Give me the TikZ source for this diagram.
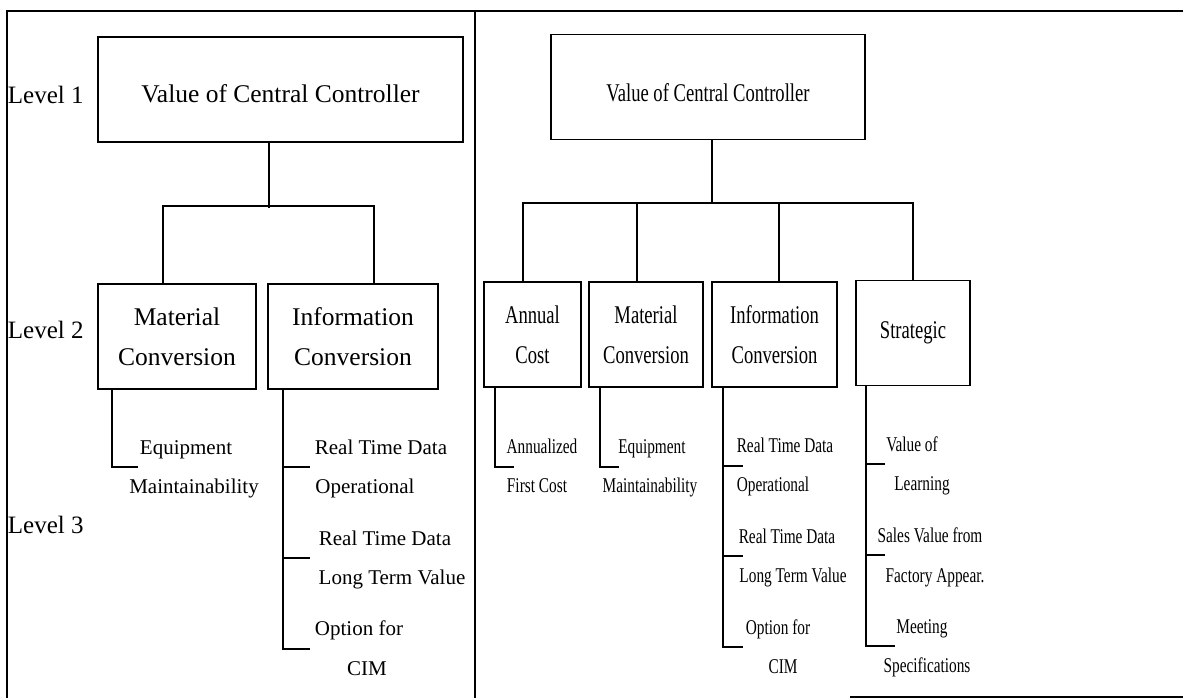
\documentclass[tikz,border=0pt]{standalone}
\usepackage{fontspec}
\setmainfont{Liberation Serif}
\newfontfamily\condf[FakeStretch=0.73]{Liberation Serif}
\begin{document}
\begin{tikzpicture}[x=1pt,y=-1pt, line width=1.8pt,
  box/.style={draw, rectangle, minimum height=105pt, inner sep=0pt, align=center},
  bigL/.style={font=\fontsize{25.5}{40}\selectfont},
  bigR/.style={font=\condf\fontsize{25.5}{40}\selectfont},
  smL/.style={font=\fontsize{21}{25}\selectfont, anchor=base, inner sep=0pt},
  smR/.style={font=\condf\fontsize{21}{25}\selectfont, anchor=base, inner sep=0pt},
  lvl/.style={font=\fontsize{25}{30}\selectfont, anchor=base west, inner sep=0pt}
]
\useasboundingbox (0,0) rectangle (1183,698);

% frame
\draw (7,698) -- (7,11) -- (1183,11);
\draw (475,11) -- (475,698);
\draw (850,697) -- (1183,697);

% level labels
\node[lvl] (lv1) at (7,104) {Level 1};
\node[lvl] (lv2) at (7,338) {Level 2};
\node[lvl] (lv3) at (7,533) {Level 3};

% ---------- left panel ----------
\node[box, bigL, minimum width=365pt, text height=27pt, text depth=0pt] (L1) at (280.5,89.5) {Value of Central Controller};
\node[box, bigL, minimum width=158pt] (LM) at (177,336.5) {Material\\Conversion};
\node[box, bigL, minimum width=170pt] (LI) at (353,336.5) {Information\\Conversion};

\draw ([xshift=-11.5pt]L1.south) -- ++(0,65);
\draw ([xshift=-14pt]LM.north) -- ++(0,-77) -| ([xshift=21pt]LI.north);

\coordinate (tLM) at (138,467);
\draw ([xshift=-65pt]LM.south) |- (tLM);
\coordinate (tLI1) at (310,467);
\coordinate (tLI2) at (310,558);
\coordinate (tLI3) at (310,649);
\draw ([xshift=-70pt]LI.south) |- (tLI1);
\draw ([xshift=-70pt]LI.south) |- (tLI2);
\draw ([xshift=-70pt]LI.south) |- (tLI3);

\node[smL] (le1) at (186,454) {Equipment};
\node[smL] (le2) at (194,493) {Maintainability};
\node[smL] (li1) at (381,454) {Real Time Data};
\node[smL] (li2) at (365,493) {Operational};
\node[smL] (li3) at (385,545) {Real Time Data};
\node[smL] (li4) at (392,584) {Long Term Value};
\node[smL] (li5) at (359,635) {Option for};
\node[smL] (li6) at (367,675) {CIM};

% ---------- right panel ----------
\node[box, bigR, minimum width=314pt, text height=29pt, text depth=0pt] (R1) at (708,87) {Value of Central Controller};
\node[box, bigR, minimum width=97pt] (RA) at (532.5,334.5) {Annual\\Cost};
\node[box, bigR, minimum width=114pt] (RM) at (646,334.5) {Material\\Conversion};
\node[box, bigR, minimum width=125pt] (RI) at (774.5,334.5) {Information\\Conversion};
\node[box, bigR, minimum width=114pt] (RS) at (913,333) {Strategic};

\draw ([xshift=4pt]R1.south) -- ++(0,64);
\draw ([xshift=-9.5pt]RA.north) -- ++(0,-78) -| (RS.north);
\draw ([xshift=-9pt]RM.north) -- ++(0,-78);
\draw ([xshift=4.5pt]RI.north) -- ++(0,-78);

\coordinate (tRA) at (514,467);
\draw ([xshift=-37.5pt]RA.south) |- (tRA);
\coordinate (tRM) at (619,467);
\draw ([xshift=-46pt]RM.south) |- (tRM);
\coordinate (tRI1) at (743,466);
\coordinate (tRI2) at (743,556);
\coordinate (tRI3) at (743,647);
\draw ([xshift=-51.5pt]RI.south) |- (tRI1);
\draw ([xshift=-51.5pt]RI.south) |- (tRI2);
\draw ([xshift=-51.5pt]RI.south) |- (tRI3);
\coordinate (tRS1) at (885,464);
\coordinate (tRS2) at (885,555);
\coordinate (tRS3) at (895,646);
\draw ([xshift=-47pt]RS.south) |- (tRS1);
\draw ([xshift=-47pt]RS.south) |- (tRS2);
\draw ([xshift=-47pt]RS.south) |- (tRS3);

\node[smR] (ra1) at (542,453) {Annualized};
\node[smR] (ra2) at (537,492) {First Cost};
\node[smR] (rm1) at (652,453) {Equipment};
\node[smR] (rm2) at (650,492) {Maintainability};
\node[smR] (ri1) at (785,452) {Real Time Data};
\node[smR] (ri2) at (773,491) {Operational};
\node[smR] (ri3) at (787,543) {Real Time Data};
\node[smR] (ri4) at (793,582) {Long Term Value};
\node[smR] (ri5) at (778,634) {Option for};
\node[smR] (ri6) at (783,673) {CIM};
\node[smR] (rs1) at (912,451) {Value of};
\node[smR] (rs2) at (922,490) {Learning};
\node[smR] (rs3) at (930,542) {Sales Value from};
\node[smR] (rs4) at (935,582) {Factory Appear.};
\node[smR] (rs5) at (922,633) {Meeting};
\node[smR] (rs6) at (927,672) {Specifications};
\end{tikzpicture}
\end{document}
